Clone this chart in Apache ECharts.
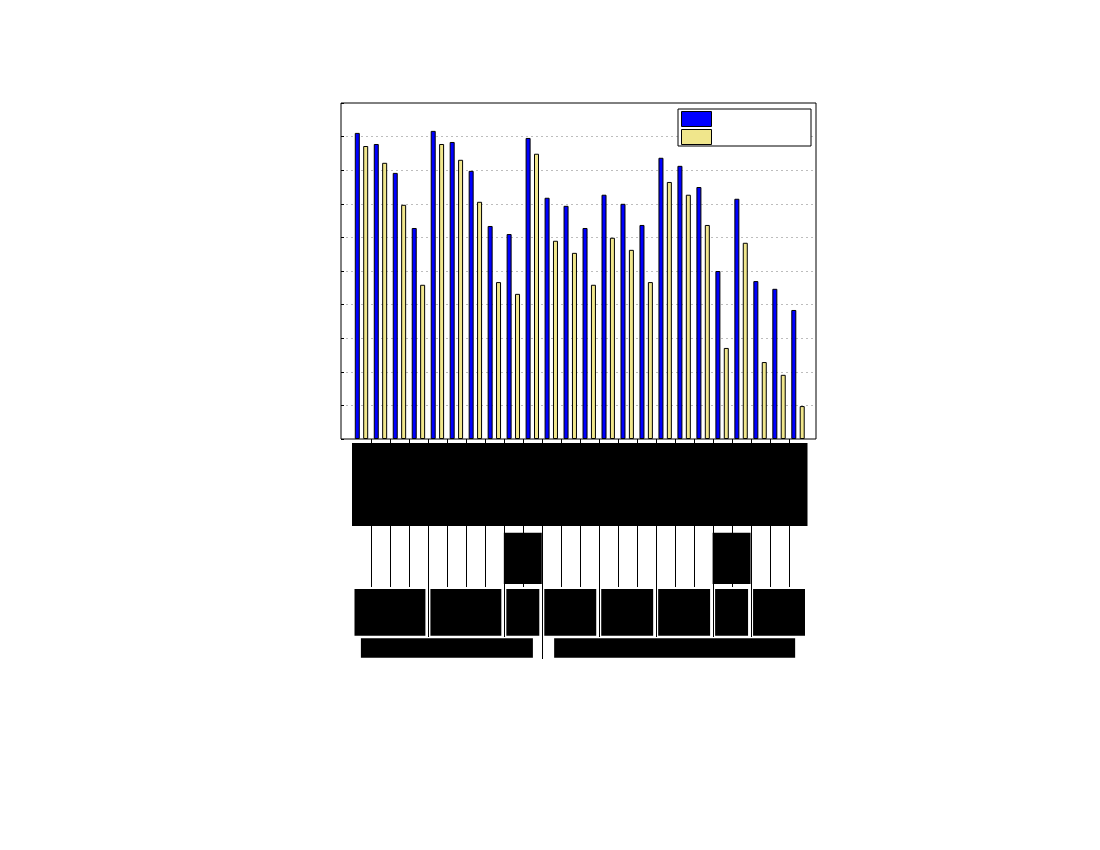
<!DOCTYPE html>
<html><head><meta charset="utf-8">
<script src="https://cdn.jsdelivr.net/npm/echarts@6/dist/echarts.min.js"></script>
<style>html,body{margin:0;padding:0;background:#fff}#c{width:1100px;height:850px}</style>
</head><body><div id="c"></div>
<script>
// ---- data ----
const categories = ['c01','c02','c03','c04','c05','c06','c07','c08','c09','c10','c11','c12',
                    'c13','c14','c15','c16','c17','c18','c19','c20','c21','c22','c23','c24'];
const seriesNames = ['Series A', 'Series B'];
const valuesA = [91.1, 87.8, 79.2, 62.8, 91.7, 88.4, 79.8, 63.4, 61.0, 89.6, 71.8, 69.4,
                 62.8, 72.7, 70.0, 63.7, 83.7, 81.3, 75.0, 50.0, 71.5, 47.0, 44.7, 38.4];
const valuesB = [87.2, 82.2, 69.7, 45.9, 87.8, 83.1, 70.6, 46.7, 43.2, 84.9, 59.0, 55.4,
                 45.9, 59.9, 56.3, 46.7, 76.5, 72.7, 63.7, 27.1, 58.4, 22.9, 19.1, 9.8];
const yTicks = [0, 10, 20, 30, 40, 50, 60, 70, 80, 90, 100];
const groupSizes = [4, 4, 2, 3, 3, 3, 2, 3];
const superGroupSizes = [10, 14];
const midBoxGroups = [2, 6];

// ---- layout / style ----
const L = {
  frameLeft: 341, frameTop: 103, frameRight: 816, frameBottom: 439,
  catLeft: 352, catRight: 807.5,
  tickLen: 4, row1H: 83, lineTop: 87, innerLineEnd: 148, groupLineEnd: 198, superLineEnd: 220,
  midBoxTop: 93.7, midBoxH: 51.3, row2Top: 150, row2H: 46.7, row2Inset: 2.5,
  row3Top: 199.3, row3H: 19.4, superBoxWidths: [172, 241]
};
const BLUE = '#0000ff', KHAKI = '#f0e68c';

const chart = echarts.init(document.getElementById('c'), null, {renderer: 'canvas'});
const yMin = yTicks[0], yMax = yTicks[yTicks.length - 1], yInt = yTicks[1] - yTicks[0];

chart.setOption({
  backgroundColor: '#fff',
  animation: false,
  legend: {
    orient: 'vertical', left: 678, top: 109,
    itemWidth: 30, itemHeight: 15, itemGap: 2,
    padding: [2, 99, 1, 3],
    borderColor: '#000', borderWidth: 1, backgroundColor: '#fff',
    selectedMode: false,
    formatter: () => '',
    itemStyle: {borderColor: '#000', borderWidth: 1},
    data: seriesNames.map(n => ({name: n, icon: 'rect'}))
  },
  grid: [
    {left: L.frameLeft, top: L.frameTop, width: L.frameRight - L.frameLeft, height: L.frameBottom - L.frameTop,
     show: true, borderColor: '#000', borderWidth: 1, backgroundColor: 'transparent', containLabel: false},
    {left: L.catLeft, top: L.frameTop, width: L.catRight - L.catLeft, height: L.frameBottom - L.frameTop, containLabel: false}
  ],
  xAxis: [
    {gridIndex: 0, type: 'value', min: 0, max: 1, show: false},
    {gridIndex: 1, type: 'category', data: categories, boundaryGap: true,
     axisLine: {show: false}, axisTick: {show: false}, axisLabel: {show: false}}
  ],
  yAxis: [
    {gridIndex: 0, type: 'value', min: yMin, max: yMax, interval: yInt,
     axisLine: {show: false}, axisLabel: {show: false},
     axisTick: {show: true, inside: true, length: 3, lineStyle: {color: '#000', width: 1}},
     splitLine: {show: true, showMinLine: false, showMaxLine: false,
                 lineStyle: {color: '#bdbdbd', width: 1, type: [2, 3]}}},
    {gridIndex: 1, type: 'value', min: yMin, max: yMax, interval: yInt, show: false,
     splitLine: {show: false}}
  ],
  series: [
    {name: seriesNames[0], type: 'bar', xAxisIndex: 1, yAxisIndex: 1, data: valuesA,
     barWidth: 5, barGap: '68%',
     itemStyle: {color: BLUE, borderColor: '#000', borderWidth: 1}},
    {name: seriesNames[1], type: 'bar', xAxisIndex: 1, yAxisIndex: 1, data: valuesB,
     barWidth: 5, barGap: '68%',
     itemStyle: {color: KHAKI, borderColor: '#000', borderWidth: 1}}
  ]
});

// ---- hierarchical category annotations (label blocks + separators) ----
const c0 = chart.convertToPixel({xAxisIndex: 1}, categories[0]);
const c1 = chart.convertToPixel({xAxisIndex: 1}, categories[1]);
const band = c1 - c0;
const b = k => c0 - band / 2 + k * band;           // boundary k (0..24)
const base = chart.convertToPixel({yAxisIndex: 1}, yMin);
const px = v => Math.round(v) + 0.5;

const groupBounds = []; {let s = 0; groupSizes.forEach(n => {groupBounds.push([s, s + n]); s += n;});}
const superBounds = []; {let s = 0; superGroupSizes.forEach(n => {superBounds.push([s, s + n]); s += n;});}
const groupEdges = new Set(groupBounds.map(g => g[0]));
const superEdges = new Set(superBounds.map(g => g[0]));

const els = [];
const line = (x, y1, y2) => els.push({type: 'line', silent: true,
  shape: {x1: px(x), y1: y1, x2: px(x), y2: y2}, style: {stroke: '#000', lineWidth: 1}});
const box = (x, y, w, h) => els.push({type: 'rect', silent: true,
  shape: {x: x, y: y, width: w, height: h}, style: {fill: '#000'}});

for (let k = 1; k < categories.length; k++) {
  line(b(k), base, base + L.tickLen);
  let end = L.innerLineEnd;
  if (superEdges.has(k)) end = L.superLineEnd; else if (groupEdges.has(k)) end = L.groupLineEnd;
  line(b(k), base + L.lineTop, base + end);
}
box(b(0), base + L.tickLen, b(categories.length) - b(0), L.row1H);
midBoxGroups.forEach(gi => {
  const g = groupBounds[gi];
  box(b(g[0]), base + L.midBoxTop, b(g[1]) - b(g[0]), L.midBoxH);
});
groupBounds.forEach(g => {
  box(b(g[0]) + L.row2Inset, base + L.row2Top, b(g[1]) - b(g[0]) - 2 * L.row2Inset, L.row2H);
});
superBounds.forEach((g, i) => {
  const cx = (b(g[0]) + b(g[1])) / 2, w = L.superBoxWidths[i];
  box(cx - w / 2, base + L.row3Top, w, L.row3H);
});
chart.setOption({graphic: {elements: els}});
</script></body></html>
